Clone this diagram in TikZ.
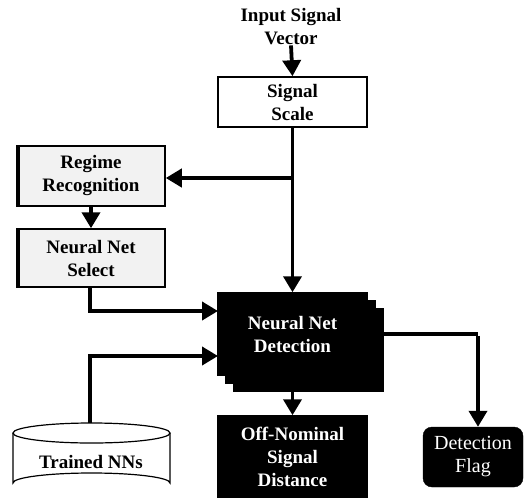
\documentclass[tikz,border=0pt]{standalone}
\usepackage{fontspec}
\setmainfont{Liberation Serif}
\usetikzlibrary{arrows.meta,calc}
\begin{document}
\begin{tikzpicture}[x=1pt,y=-1pt,
  lbl/.style={font=\fontsize{19}{23}\selectfont\bfseries, align=center, inner sep=0pt},
  whitebox/.style={lbl, draw=black, line width=1.5pt, fill=white},
  graybox/.style={lbl, draw=black, line width=1.5pt, fill=gray!10},
  blackbox/.style={lbl, draw=black, line width=1.5pt, fill=black, text=white},
  flagbox/.style={font=\fontsize{20}{23}\selectfont, align=center, inner sep=0pt, draw=black, fill=black, text=white, rounded corners=9pt},
  conn/.style={line width=3.8pt, -{Triangle[length=16pt,width=18pt]}},
  line/.style={line width=3.8pt}
]
\useasboundingbox (0,0) rectangle (524,498);

% input
\node[lbl] (in) at (291,27) {Input Signal\\Vector};
\node[whitebox, minimum width=149pt, minimum height=50pt] (scale) at (292.5,102) {Signal\\Scale};

% left boxes
\node[graybox, minimum width=148pt, minimum height=60pt] (regime) at (91,176) {Regime\\Recognition};
\node[graybox, minimum width=148pt, minimum height=58pt] (select) at (91,258) {Neural Net\\Select};
\fill[black] ([xshift=0.75pt,yshift=-0.75pt]regime.north west) rectangle ([xshift=4pt,yshift=0.75pt]regime.south west);
\fill[black] ([xshift=0.75pt,yshift=-0.75pt]select.north west) rectangle ([xshift=4pt,yshift=0.75pt]select.south west);

% detection stack
\node[blackbox, minimum width=149pt, minimum height=82pt] (det3) at (308.5,350) {};
\node[blackbox, minimum width=149pt, minimum height=82pt] (det2) at (300.5,342) {};
\node[blackbox, minimum width=149pt, minimum height=82pt] (det) at (292.5,334) {Neural Net\\Detection};

% outputs
\node[blackbox, minimum width=149pt, minimum height=81pt] (off) at (292.5,456.5) {Off-Nominal\\Signal\\Distance};
\node[flagbox, minimum width=100pt, minimum height=60pt] (flag) at (473,457) {Detection\\Flag};

% cylinder
\draw[line width=1.2pt, fill=white] (13,433) -- (13,483) arc[start angle=180, end angle=360, x radius=78.5, y radius=10] -- (170,433);
\draw[line width=1.2pt] (91.5,433) ellipse[x radius=78.5, y radius=10];
\node[lbl] (nn) at (91,462) {Trained NNs};
\coordinate (nntop) at (90,423);

% connectors
\draw[conn] (in.south) -- (scale.north);
\draw[conn] (scale.south) -- (det.north);
\coordinate (br) at (292.5,178);
\draw[conn] (br) -- (br -| regime.east);
\draw[conn] (regime.south) -- (select.north);
\coordinate (in1) at (218,311);
\coordinate (in2) at (218,356);
\draw[conn] (select.south -| 90,0) |- (in1);
\draw[conn] (nntop) |- (in2);
\draw[conn] (off.north |- det3.south) -- (off.north);
\coordinate (fr) at (478,334);
\draw[line] (det3.east |- fr) -- (fr);
\draw[conn] ([yshift=-1.9pt]fr) -- (fr |- flag.north);
\end{tikzpicture}
\end{document}
